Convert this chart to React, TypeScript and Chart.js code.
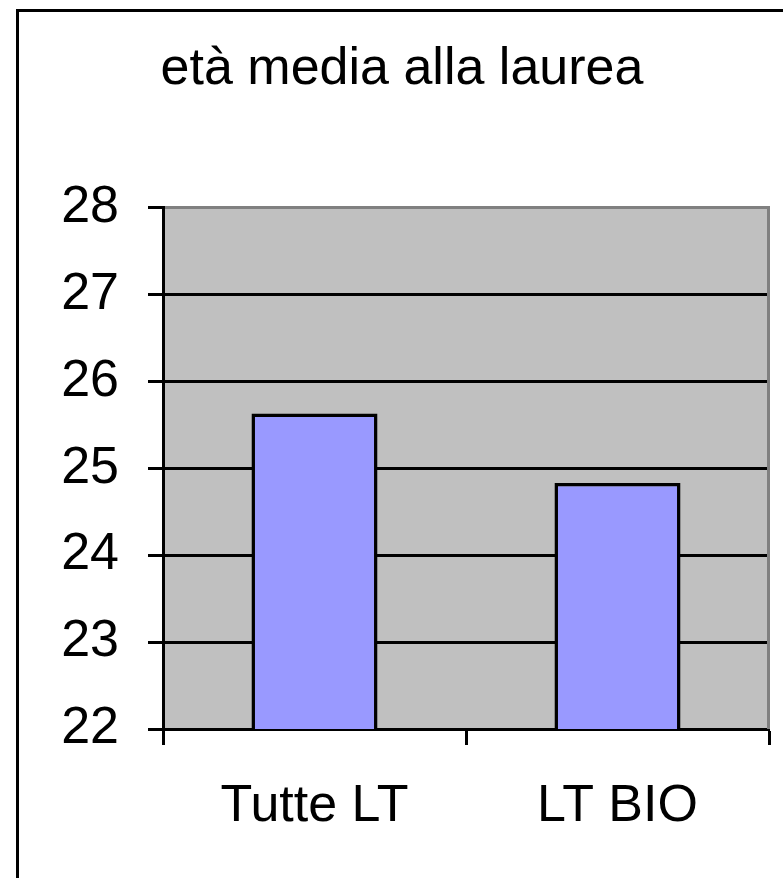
import React, { useEffect, useRef } from "react";
import { Chart, registerables } from "chart.js";

Chart.register(...registerables);

const categories = ["Tutte LT", "LT BIO"];
const etaMedia = [25.63, 24.83];
const titleText = "età media alla laurea";
const yMin = 22;
const yMax = 28;
const yStep = 1;

const FONT = "'Liberation Sans', Arial, sans-serif";

const framePlugin = {
  id: "framePlugin",
  beforeDraw(chart: any) {
    const { ctx, chartArea } = chart;
    ctx.save();
    ctx.fillStyle = "#ffffff";
    ctx.fillRect(0, 0, chart.width, chart.height);
    ctx.fillStyle = "#C0C0C0";
    ctx.fillRect(chartArea.left, chartArea.top, chartArea.right - chartArea.left, chartArea.bottom - chartArea.top);
    ctx.strokeStyle = "#000000";
    ctx.lineWidth = 3;
    ctx.strokeRect(17.5, 10.5, 2000, 2000);
    ctx.restore();
  },
  afterDatasetsDraw(chart: any) {
    const { ctx, chartArea } = chart;
    ctx.save();
    ctx.strokeStyle = "#808080";
    ctx.lineWidth = 3;
    ctx.beginPath();
    ctx.moveTo(chartArea.right - 0.5, chartArea.top - 1.5);
    ctx.lineTo(chartArea.right - 0.5, chartArea.bottom);
    ctx.stroke();
    ctx.restore();
  },
};

export default function App() {
  const ref = useRef<HTMLCanvasElement>(null);
  useEffect(() => {
    if (!ref.current) return;
    const chart = new Chart(ref.current, {
      type: "bar",
      data: {
        labels: categories,
        datasets: [
          {
            data: etaMedia,
            backgroundColor: "#9999FF",
            borderColor: "#000000",
            borderWidth: 3.5,
            barPercentage: 0.416,
            categoryPercentage: 1,
          },
        ],
      },
      options: {
        responsive: false,
        animation: false,
        layout: { padding: { left: 35, right: 14, top: 0, bottom: 0 } },
        plugins: {
          legend: { display: false },
          tooltip: { enabled: false },
          title: {
            display: true,
            text: titleText,
            color: "#000000",
            font: { family: FONT, size: 52, weight: "normal" },
            padding: { top: 38, bottom: 107 },
          },
        },
        scales: {
          x: {
            afterFit: (s: any) => {
              s.height = 149;
            },
            grid: {
              offset: true,
              drawOnChartArea: false,
              drawTicks: true,
              tickLength: 16,
              tickColor: "#000000",
              tickWidth: 3,
            },
            border: { display: true, color: "#000000", width: 3 },
            ticks: {
              color: "#000000",
              padding: 30,
              font: { family: FONT, size: 52 },
            },
          },
          y: {
            min: yMin,
            max: yMax,
            afterFit: (s: any) => {
              s.width = 128;
            },
            grid: {
              color: (c: any) => (c.tick && c.tick.value === yMax ? "#808080" : "#000000"),
              lineWidth: 3,
              tickColor: "#000000",
              tickWidth: 3,
              tickLength: 15,
            },
            border: { display: true, color: "#000000", width: 3 },
            ticks: {
              stepSize: yStep,
              color: "#000000",
              padding: 29,
              font: { family: FONT, size: 52 },
            },
          },
        },
      },
      plugins: [framePlugin],
    });
    return () => chart.destroy();
  }, []);
  return (
    <div style={{ position: "absolute", left: 0, top: 0, width: 783, height: 878 }}>
      <canvas ref={ref} width={783} height={878} style={{ display: "block" }} />
    </div>
  );
}
